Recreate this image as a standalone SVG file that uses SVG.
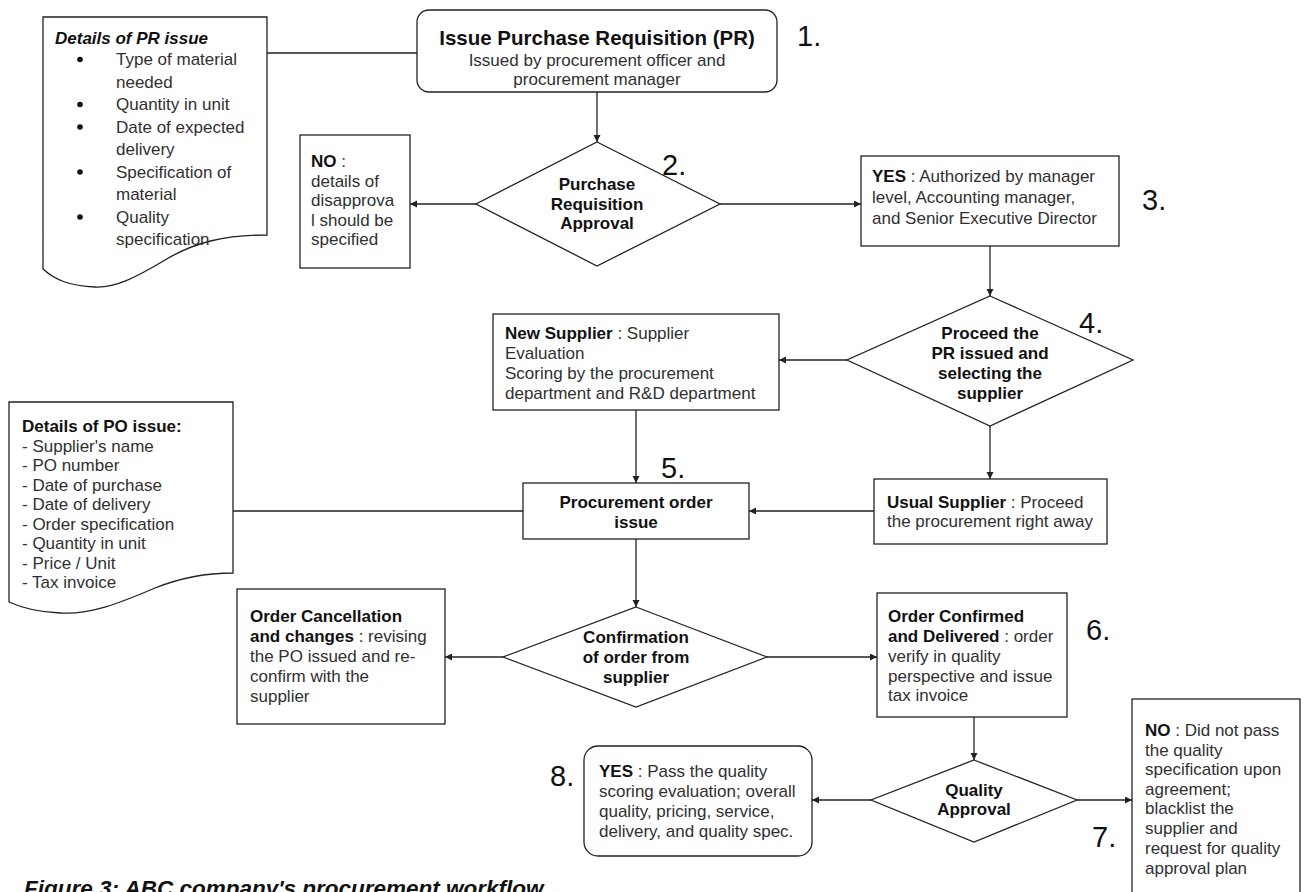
<svg xmlns="http://www.w3.org/2000/svg" width="1303" height="892" viewBox="0 0 1303 892">
  <style>
    text { font-family: "Liberation Sans", Arial, sans-serif; font-size: 17px; fill: #303030; }
    .b { font-weight: bold; fill: #111; }
    .c { text-anchor: middle; }
    .title { font-size: 20.5px; }
    .caption { font-size: 22.5px; font-style: italic; }
    .num { font-size: 29px; fill: #111; }
    .shape { fill: #fff; stroke: #222; stroke-width: 1.3; }
    .conn line { stroke: #222; stroke-width: 1.3; }
    .arr { marker-end: url(#ah); }
  </style>
  <defs>
    <marker id="ah" markerUnits="userSpaceOnUse" markerWidth="8" markerHeight="8" refX="7" refY="3.5" orient="auto">
      <path d="M0,0 L7,3.5 L0,7 z" fill="#222"/>
    </marker>
  </defs>
  <rect width="1303" height="892" fill="#fff"/>

  <!-- connectors -->
  <g id="connectors" class="conn">
    <line x1="267" y1="53" x2="417" y2="53"/>
    <line class="arr" x1="597" y1="92" x2="597" y2="142"/>
    <line class="arr" x1="476" y1="204" x2="410" y2="204"/>
    <line class="arr" x1="720" y1="204" x2="861" y2="204"/>
    <line class="arr" x1="990" y1="246" x2="990" y2="296"/>
    <line class="arr" x1="847" y1="360" x2="779" y2="360"/>
    <line class="arr" x1="990" y1="426" x2="990" y2="479"/>
    <line class="arr" x1="636" y1="410" x2="636" y2="483"/>
    <line class="arr" x1="874" y1="511" x2="749" y2="511"/>
    <line x1="233" y1="511" x2="523" y2="511"/>
    <line class="arr" x1="636" y1="539" x2="636" y2="607"/>
    <line class="arr" x1="503" y1="657" x2="445" y2="657"/>
    <line class="arr" x1="767" y1="657" x2="877" y2="657"/>
    <line class="arr" x1="974" y1="717" x2="974" y2="760"/>
    <line class="arr" x1="871" y1="800" x2="812" y2="800"/>
    <line class="arr" x1="1077" y1="800" x2="1132" y2="800"/>
  </g>

  <!-- PR details document -->
  <g id="pr-details">
    <path class="shape" d="M43,17 H267 V235 C225,235 195,242 165,260 C135,278 115,288 95,287 C70,286 55,280 43,269 Z"/>
    <text x="55" y="44" class="b" font-style="italic">Details of PR issue</text>
    <g fill="#111">
      <circle cx="80" cy="59.5" r="2.8"/>
      <circle cx="80" cy="104.5" r="2.8"/>
      <circle cx="80" cy="127" r="2.8"/>
      <circle cx="80" cy="172" r="2.8"/>
      <circle cx="80" cy="217" r="2.8"/>
    </g>
    <text x="116" y="65">Type of material</text>
    <text x="116" y="87.5">needed</text>
    <text x="116" y="110">Quantity in unit</text>
    <text x="116" y="132.5">Date of expected</text>
    <text x="116" y="155">delivery</text>
    <text x="116" y="177.5">Specification of</text>
    <text x="116" y="200">material</text>
    <text x="116" y="222.5">Quality</text>
    <text x="116" y="245">specification</text>
  </g>

  <!-- 1. Issue PR -->
  <g id="issue-pr">
    <rect class="shape" x="417" y="10" width="360" height="82" rx="12"/>
    <text x="597" y="45" class="b c title">Issue Purchase Requisition (PR)</text>
    <text x="597" y="66" class="c">Issued by procurement officer and</text>
    <text x="597" y="85" class="c">procurement manager</text>
    <text x="797" y="46" class="num">1.</text>
  </g>

  <!-- 2. PR approval -->
  <g id="pr-approval">
    <polygon class="shape" points="597,142 720,204 597,266 476,204"/>
    <text x="597" y="190" class="b c">Purchase</text>
    <text x="597" y="210" class="b c">Requisition</text>
    <text x="597" y="229" class="b c">Approval</text>
    <text x="662" y="175" class="num">2.</text>
  </g>

  <!-- NO: disapproval -->
  <g id="pr-rejected">
    <rect class="shape" x="300" y="135" width="110" height="133"/>
    <text x="311" y="167"><tspan class="b">NO</tspan> :</text>
    <text x="311" y="186.5">details of</text>
    <text x="311" y="206">disapprova</text>
    <text x="311" y="225.5">l should be</text>
    <text x="311" y="245">specified</text>
  </g>

  <!-- 3. YES: authorized -->
  <g id="pr-authorized">
    <rect class="shape" x="861" y="156" width="258" height="90"/>
    <text x="872" y="182"><tspan class="b">YES</tspan> : Authorized by manager</text>
    <text x="872" y="203">level, Accounting manager,</text>
    <text x="872" y="224">and Senior Executive Director</text>
    <text x="1142" y="210" class="num">3.</text>
  </g>

  <!-- 4. Supplier selection -->
  <g id="select-supplier">
    <polygon class="shape" points="990,296 1133,360 990,426 847,360"/>
    <text x="990" y="339" class="b c">Proceed the</text>
    <text x="990" y="359" class="b c">PR issued and</text>
    <text x="990" y="379" class="b c">selecting the</text>
    <text x="990" y="399" class="b c">supplier</text>
    <text x="1079" y="333" class="num">4.</text>
  </g>

  <!-- New supplier -->
  <g id="new-supplier">
    <rect class="shape" x="493" y="314" width="286" height="96"/>
    <text x="505" y="339"><tspan class="b">New Supplier</tspan> : Supplier</text>
    <text x="505" y="359">Evaluation</text>
    <text x="505" y="379">Scoring by the procurement</text>
    <text x="505" y="399">department and R&amp;D department</text>
  </g>

  <!-- Usual supplier -->
  <g id="usual-supplier">
    <rect class="shape" x="874" y="479" width="233" height="65"/>
    <text x="887" y="508"><tspan class="b">Usual Supplier</tspan> : Proceed</text>
    <text x="887" y="527">the procurement right away</text>
  </g>

  <!-- PO details document -->
  <g id="po-details">
    <path class="shape" d="M9,402 H233 V573 C205,573 180,578 155,588 C120,603 90,615 60,613 C35,612 20,607 9,602 Z"/>
    <text x="22" y="432" class="b">Details of PO issue:</text>
    <text x="22" y="451.5">- Supplier's name</text>
    <text x="22" y="471">- PO number</text>
    <text x="22" y="490.5">- Date of purchase</text>
    <text x="22" y="510">- Date of delivery</text>
    <text x="22" y="529.5">- Order specification</text>
    <text x="22" y="549">- Quantity in unit</text>
    <text x="22" y="568.5">- Price / Unit</text>
    <text x="22" y="588">- Tax invoice</text>
  </g>

  <!-- 5. Procurement order -->
  <g id="procurement-order">
    <rect class="shape" x="523" y="483" width="226" height="56"/>
    <text x="636" y="508" class="b c">Procurement order</text>
    <text x="636" y="528" class="b c">issue</text>
    <text x="661" y="478" class="num">5.</text>
  </g>

  <!-- Supplier confirmation -->
  <g id="order-confirmation">
    <polygon class="shape" points="636,607 767,657 636,707 503,657"/>
    <text x="636" y="643" class="b c">Confirmation</text>
    <text x="636" y="663" class="b c">of order from</text>
    <text x="636" y="683" class="b c">supplier</text>
  </g>

  <!-- Cancellation -->
  <g id="order-cancel">
    <rect class="shape" x="237" y="589" width="208" height="135"/>
    <text x="250" y="622" class="b">Order Cancellation</text>
    <text x="250" y="642"><tspan class="b">and changes</tspan> : revising</text>
    <text x="250" y="662">the PO issued and re-</text>
    <text x="250" y="682">confirm with the</text>
    <text x="250" y="702">supplier</text>
  </g>

  <!-- 6. Confirmed and delivered -->
  <g id="order-delivered">
    <rect class="shape" x="877" y="593" width="190" height="124"/>
    <text x="888" y="622" class="b">Order Confirmed</text>
    <text x="888" y="642"><tspan class="b">and Delivered</tspan> : order</text>
    <text x="888" y="662">verify in quality</text>
    <text x="888" y="682">perspective and issue</text>
    <text x="888" y="701">tax invoice</text>
    <text x="1086" y="640" class="num">6.</text>
  </g>

  <!-- Quality approval -->
  <g id="quality-approval">
    <polygon class="shape" points="974,760 1077,800 974,842 871,800"/>
    <text x="974" y="796" class="b c">Quality</text>
    <text x="974" y="815" class="b c">Approval</text>
  </g>

  <!-- 8. YES: passed -->
  <g id="quality-pass">
    <rect class="shape" x="584" y="746" width="228" height="110" rx="14"/>
    <text x="599" y="777"><tspan class="b">YES</tspan> : Pass the quality</text>
    <text x="599" y="797">scoring evaluation; overall</text>
    <text x="599" y="817">quality, pricing, service,</text>
    <text x="599" y="837">delivery, and quality spec.</text>
    <text x="550" y="786" class="num">8.</text>
  </g>

  <!-- 7. NO: failed -->
  <g id="quality-fail">
    <rect class="shape" x="1132" y="699" width="168" height="210"/>
    <text x="1145" y="736"><tspan class="b">NO</tspan> : Did not pass</text>
    <text x="1145" y="756">the quality</text>
    <text x="1145" y="775">specification upon</text>
    <text x="1145" y="795">agreement;</text>
    <text x="1145" y="814">blacklist the</text>
    <text x="1145" y="834">supplier and</text>
    <text x="1145" y="854">request for quality</text>
    <text x="1145" y="874">approval plan</text>
    <text x="1092" y="847" class="num">7.</text>
  </g>

  <!-- caption -->
  <text x="24" y="896" class="b caption">Figure 3: ABC company's procurement workflow</text>
</svg>
